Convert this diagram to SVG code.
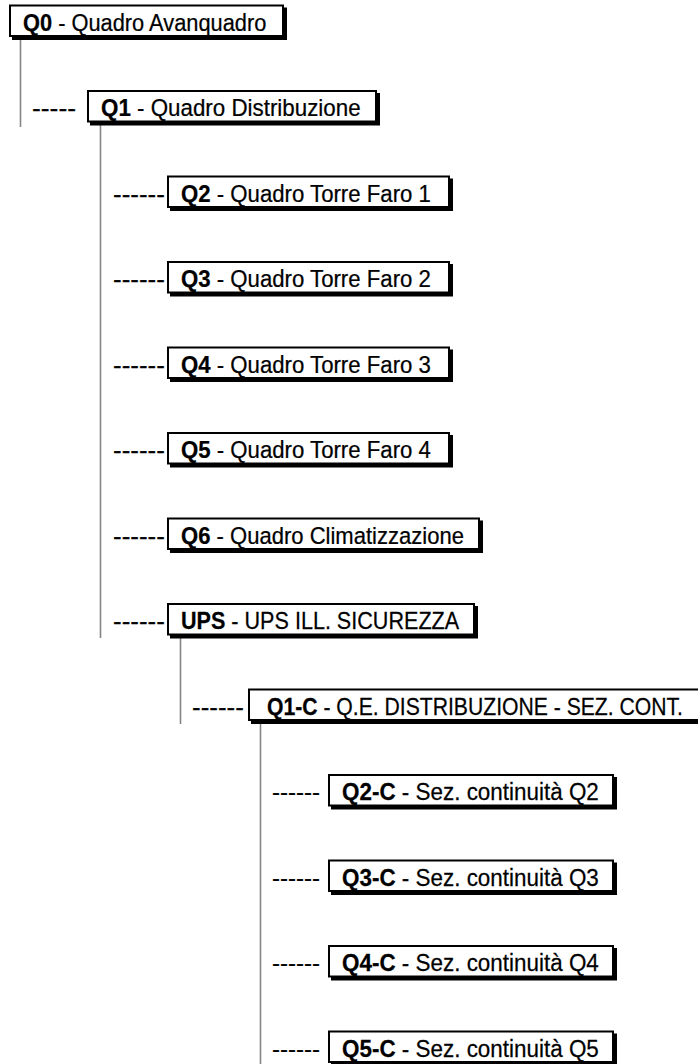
<svg xmlns="http://www.w3.org/2000/svg" width="698" height="1064" viewBox="0 0 698 1064">
<style>
.sh{fill:#000;stroke:#000;stroke-width:2}
.bx{fill:#fff;stroke:#000;stroke-width:2}
.t{font-family:"Liberation Sans",Arial,sans-serif;font-size:24.5px;fill:#000;stroke:#000;stroke-width:0.25}
.b{font-weight:bold}
.ln{stroke:#858585;stroke-width:1.6;fill:none}
</style>
<rect width="698" height="1064" fill="#fff"/>
<g id="connectors">
<line class="ln" x1="20.5" y1="40" x2="20.5" y2="127"/>
<line class="ln" x1="100.5" y1="125" x2="100.5" y2="638"/>
<line class="ln" x1="180.5" y1="638" x2="180.5" y2="724"/>
<line class="ln" x1="260.5" y1="723" x2="260.5" y2="1064"/>
<text class="t" transform="translate(32 116) scale(1.08 1)">-----</text>
<text class="t" transform="translate(113 201.5) scale(1.06 1)">------</text>
<text class="t" transform="translate(113 287) scale(1.06 1)">------</text>
<text class="t" transform="translate(113 372.5) scale(1.06 1)">------</text>
<text class="t" transform="translate(113 458) scale(1.06 1)">------</text>
<text class="t" transform="translate(113 543.5) scale(1.06 1)">------</text>
<text class="t" transform="translate(113 629) scale(1.06 1)">------</text>
<text class="t" transform="translate(192 714.5) scale(1.06 1)">------</text>
<text class="t" transform="translate(272 800) scale(0.98 1)">------</text>
<text class="t" transform="translate(272 885.5) scale(0.98 1)">------</text>
<text class="t" transform="translate(272 971) scale(0.98 1)">------</text>
<text class="t" transform="translate(272 1056.5) scale(0.98 1)">------</text>
</g>
<g id="Q0">
<rect class="sh" x="13" y="8.5" width="273" height="30.5"/>
<rect class="bx" x="10" y="5.5" width="273" height="30.5"/>
<text class="t" transform="translate(23 30.5) scale(0.891 1)"><tspan class="b">Q0</tspan> - Quadro Avanquadro</text>
</g>
<g id="Q1">
<rect class="sh" x="91" y="94" width="288" height="30.5"/>
<rect class="bx" x="88" y="91" width="288" height="30.5"/>
<text class="t" transform="translate(101 116) scale(0.913 1)"><tspan class="b">Q1</tspan> - Quadro Distribuzione</text>
</g>
<g id="Q2">
<rect class="sh" x="171" y="179.5" width="281" height="30.5"/>
<rect class="bx" x="168" y="176.5" width="281" height="30.5"/>
<text class="t" transform="translate(181 201.5) scale(0.906 1)"><tspan class="b">Q2</tspan> - Quadro Torre Faro 1</text>
</g>
<g id="Q3">
<rect class="sh" x="171" y="265" width="281" height="30.5"/>
<rect class="bx" x="168" y="262" width="281" height="30.5"/>
<text class="t" transform="translate(181 287) scale(0.906 1)"><tspan class="b">Q3</tspan> - Quadro Torre Faro 2</text>
</g>
<g id="Q4">
<rect class="sh" x="171" y="350.5" width="281" height="30.5"/>
<rect class="bx" x="168" y="347.5" width="281" height="30.5"/>
<text class="t" transform="translate(181 372.5) scale(0.906 1)"><tspan class="b">Q4</tspan> - Quadro Torre Faro 3</text>
</g>
<g id="Q5">
<rect class="sh" x="171" y="436" width="281" height="30.5"/>
<rect class="bx" x="168" y="433" width="281" height="30.5"/>
<text class="t" transform="translate(181 458) scale(0.906 1)"><tspan class="b">Q5</tspan> - Quadro Torre Faro 4</text>
</g>
<g id="Q6">
<rect class="sh" x="171" y="521.5" width="311" height="30.5"/>
<rect class="bx" x="168" y="518.5" width="311" height="30.5"/>
<text class="t" transform="translate(181 543.5) scale(0.9 1)"><tspan class="b">Q6</tspan> - Quadro Climatizzazione</text>
</g>
<g id="UPS">
<rect class="sh" x="171" y="607" width="306" height="30.5"/>
<rect class="bx" x="168" y="604" width="306" height="30.5"/>
<text class="t" transform="translate(181 629) scale(0.881 1)"><tspan class="b">UPS</tspan> - UPS ILL. SICUREZZA</text>
</g>
<g id="Q1-C">
<rect class="sh" x="252" y="692.5" width="460" height="30.5"/>
<rect class="bx" x="249" y="689.5" width="460" height="30.5"/>
<text class="t" transform="translate(267 714.5) scale(0.864 1)"><tspan class="b">Q1-C</tspan> - Q.E. DISTRIBUZIONE - SEZ. CONT.</text>
</g>
<g id="Q2-C">
<rect class="sh" x="332" y="778" width="284" height="30.5"/>
<rect class="bx" x="329" y="775" width="284" height="30.5"/>
<text class="t" transform="translate(342 800) scale(0.916 1)"><tspan class="b">Q2-C</tspan> - Sez. continuità Q2</text>
</g>
<g id="Q3-C">
<rect class="sh" x="332" y="863.5" width="284" height="30.5"/>
<rect class="bx" x="329" y="860.5" width="284" height="30.5"/>
<text class="t" transform="translate(342 885.5) scale(0.916 1)"><tspan class="b">Q3-C</tspan> - Sez. continuità Q3</text>
</g>
<g id="Q4-C">
<rect class="sh" x="332" y="949" width="284" height="30.5"/>
<rect class="bx" x="329" y="946" width="284" height="30.5"/>
<text class="t" transform="translate(342 971) scale(0.916 1)"><tspan class="b">Q4-C</tspan> - Sez. continuità Q4</text>
</g>
<g id="Q5-C">
<rect class="sh" x="332" y="1034.5" width="284" height="30.5"/>
<rect class="bx" x="329" y="1031.5" width="284" height="30.5"/>
<text class="t" transform="translate(342 1056.5) scale(0.916 1)"><tspan class="b">Q5-C</tspan> - Sez. continuità Q5</text>
</g>
</svg>
